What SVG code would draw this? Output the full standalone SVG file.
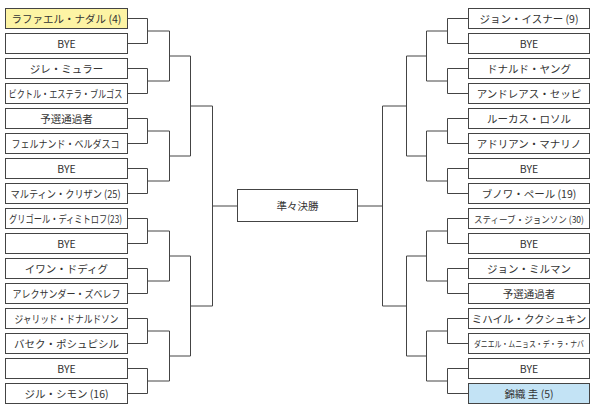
<svg xmlns="http://www.w3.org/2000/svg" width="595" height="412" viewBox="0 0 595 412">
<style>
.b{fill:#fff;stroke:#444;stroke-width:1}
.y{fill:#fdf4a4}
.c{fill:#c3e3f5}
.t{font-family:"Noto Sans CJK JP","Noto Sans CJK SC",sans-serif;font-size:10.5px;fill:#333;text-anchor:middle}
.s{font-size:9.5px}
.u{font-size:8.5px}
.l{fill:none;stroke:#444;stroke-width:1}
</style>
<rect width="595" height="412" fill="#fff"/>
<g id="connectors" class="l">
<path d="M127.5 18.5H147.5V43.5H127.5M127.5 68.5H147.5V93.5H127.5M127.5 118.5H147.5V143.5H127.5M127.5 168.5H147.5V193.5H127.5M127.5 218.5H147.5V243.5H127.5M127.5 268.5H147.5V293.5H127.5M127.5 318.5H147.5V343.5H127.5M127.5 368.5H147.5V393.5H127.5"/>
<path d="M147.5 31H169.5V81H147.5M147.5 131H169.5V181H147.5M147.5 231H169.5V281H147.5M147.5 331H169.5V381H147.5"/>
<path d="M169.5 56H190.5V156H169.5M169.5 256H190.5V356H169.5"/>
<path d="M190.5 106H212.5V306H190.5M212.5 206H237.5"/>
<path d="M468.5 18.5H447.5V43.5H468.5M468.5 68.5H447.5V93.5H468.5M468.5 118.5H447.5V143.5H468.5M468.5 168.5H447.5V193.5H468.5M468.5 218.5H447.5V243.5H468.5M468.5 268.5H447.5V293.5H468.5M468.5 318.5H447.5V343.5H468.5M468.5 368.5H447.5V393.5H468.5"/>
<path d="M447.5 31H426.5V81H447.5M447.5 131H426.5V181H447.5M447.5 231H426.5V281H447.5M447.5 331H426.5V381H447.5"/>
<path d="M426.5 56H406.5V156H426.5M426.5 256H406.5V356H426.5"/>
<path d="M406.5 106H382.5V306H406.5M382.5 206H357.5"/>
</g>
<g id="final"><rect class="b" x="237.5" y="189.5" width="120" height="32"/><text class="t" x="297.5" y="209.5">準々決勝</text></g>
<g id="L1"><rect class="b y" x="5.5" y="8.5" width="122" height="20"/><text class="t" x="66.5" y="22.5">ラファエル・ナダル (4)</text></g>
<g id="L2"><rect class="b" x="5.5" y="33.5" width="122" height="20"/><text class="t" x="66.5" y="47.5">BYE</text></g>
<g id="L3"><rect class="b" x="5.5" y="58.5" width="122" height="20"/><text class="t" x="66.5" y="72.5">ジレ・ミュラー</text></g>
<g id="L4"><rect class="b" x="5.5" y="83.5" width="122" height="20"/><text class="t" x="65.5" y="97.5" textLength="114" lengthAdjust="spacingAndGlyphs">ビクトル・エステラ・ブルゴス</text></g>
<g id="L5"><rect class="b" x="5.5" y="108.5" width="122" height="20"/><text class="t" x="66.5" y="122.5">予選通過者</text></g>
<g id="L6"><rect class="b" x="5.5" y="133.5" width="122" height="20"/><text class="t" x="65.5" y="147.5" textLength="108" lengthAdjust="spacingAndGlyphs">フェルナンド・ベルダスコ</text></g>
<g id="L7"><rect class="b" x="5.5" y="158.5" width="122" height="20"/><text class="t" x="66.5" y="172.5">BYE</text></g>
<g id="L8"><rect class="b" x="5.5" y="183.5" width="122" height="20"/><text class="t" x="65.5" y="197.5" textLength="110" lengthAdjust="spacingAndGlyphs">マルティン・クリザン (25)</text></g>
<g id="L9"><rect class="b" x="5.5" y="208.5" width="122" height="20"/><text class="t" x="65.5" y="222.5" textLength="113" lengthAdjust="spacingAndGlyphs">グリゴール・ディミトロフ(23)</text></g>
<g id="L10"><rect class="b" x="5.5" y="233.5" width="122" height="20"/><text class="t" x="66.5" y="247.5">BYE</text></g>
<g id="L11"><rect class="b" x="5.5" y="258.5" width="122" height="20"/><text class="t" x="66.5" y="272.5">イワン・ドディグ</text></g>
<g id="L12"><rect class="b" x="5.5" y="283.5" width="122" height="20"/><text class="t" x="66.5" y="297.5" textLength="108" lengthAdjust="spacingAndGlyphs">アレクサンダー・ズベレフ</text></g>
<g id="L13"><rect class="b" x="5.5" y="308.5" width="122" height="20"/><text class="t" x="66.5" y="322.5" textLength="104" lengthAdjust="spacingAndGlyphs">ジャリッド・ドナルドソン</text></g>
<g id="L14"><rect class="b" x="5.5" y="333.5" width="122" height="20"/><text class="t" x="66.5" y="347.5">バセク・ポシュピシル</text></g>
<g id="L15"><rect class="b" x="5.5" y="358.5" width="122" height="20"/><text class="t" x="66.5" y="372.5">BYE</text></g>
<g id="L16"><rect class="b" x="5.5" y="383.5" width="122" height="20"/><text class="t" x="66.5" y="397.5">ジル・シモン (16)</text></g>
<g id="R1"><rect class="b" x="468.5" y="8.5" width="121" height="20"/><text class="t" x="529" y="22.5">ジョン・イスナー (9)</text></g>
<g id="R2"><rect class="b" x="468.5" y="33.5" width="121" height="20"/><text class="t" x="529" y="47.5">BYE</text></g>
<g id="R3"><rect class="b" x="468.5" y="58.5" width="121" height="20"/><text class="t" x="529" y="72.5">ドナルド・ヤング</text></g>
<g id="R4"><rect class="b" x="468.5" y="83.5" width="121" height="20"/><text class="t" x="529" y="97.5">アンドレアス・セッピ</text></g>
<g id="R5"><rect class="b" x="468.5" y="108.5" width="121" height="20"/><text class="t" x="529" y="122.5">ルーカス・ロソル</text></g>
<g id="R6"><rect class="b" x="468.5" y="133.5" width="121" height="20"/><text class="t" x="529" y="147.5">アドリアン・マナリノ</text></g>
<g id="R7"><rect class="b" x="468.5" y="158.5" width="121" height="20"/><text class="t" x="529" y="172.5">BYE</text></g>
<g id="R8"><rect class="b" x="468.5" y="183.5" width="121" height="20"/><text class="t" x="529" y="197.5">ブノワ・ペール (19)</text></g>
<g id="R9"><rect class="b" x="468.5" y="208.5" width="121" height="20"/><text class="t s" x="529" y="222.5" textLength="110" lengthAdjust="spacingAndGlyphs">スティーブ・ジョンソン (30)</text></g>
<g id="R10"><rect class="b" x="468.5" y="233.5" width="121" height="20"/><text class="t" x="529" y="247.5">BYE</text></g>
<g id="R11"><rect class="b" x="468.5" y="258.5" width="121" height="20"/><text class="t" x="529" y="272.5">ジョン・ミルマン</text></g>
<g id="R12"><rect class="b" x="468.5" y="283.5" width="121" height="20"/><text class="t" x="529" y="297.5">予選通過者</text></g>
<g id="R13"><rect class="b" x="468.5" y="308.5" width="121" height="20"/><text class="t" x="529" y="322.5">ミハイル・ククシュキン</text></g>
<g id="R14"><rect class="b" x="468.5" y="333.5" width="121" height="20"/><text class="t u" x="529" y="347" textLength="110" lengthAdjust="spacingAndGlyphs">ダニエル・ムニョス・デ・ラ・ナバ</text></g>
<g id="R15"><rect class="b" x="468.5" y="358.5" width="121" height="20"/><text class="t" x="529" y="372.5">BYE</text></g>
<g id="R16"><rect class="b c" x="468.5" y="383.5" width="121" height="20"/><text class="t" x="529" y="397.5">錦織 圭 (5)</text></g>
</svg>
